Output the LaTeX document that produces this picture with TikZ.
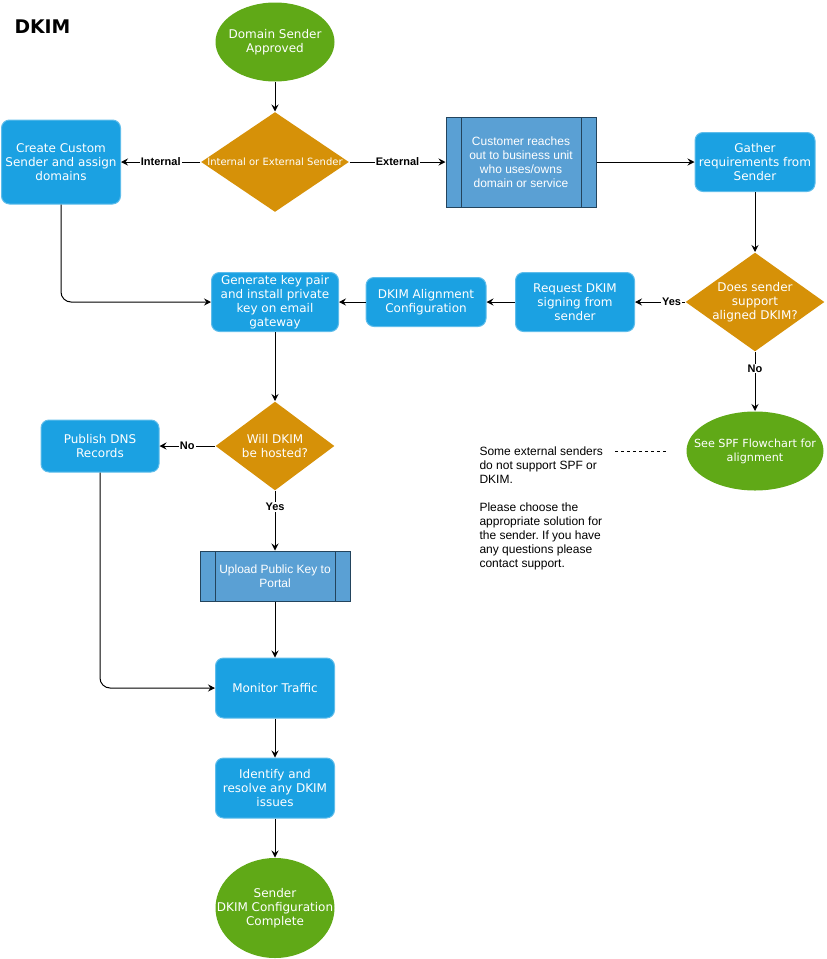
\documentclass[tikz,border=0pt]{standalone}
\usepackage{fontspec}
\setmainfont{DejaVu Sans}
\newfontfamily\arialfont{Liberation Sans}
\usepackage{tikz}
\usetikzlibrary{arrows.meta,shapes.geometric}
\definecolor{dgreen}{RGB}{96,169,23}
\definecolor{dblue}{RGB}{27,161,226}
\definecolor{dorange}{RGB}{214,145,8}
\definecolor{procfill}{RGB}{90,160,212}
\definecolor{procline}{RGB}{35,68,93}
\frenchspacing

\begin{document}
\begin{tikzpicture}[>={Stealth[length=7pt,width=7pt,inset=2.5pt]},x=1pt,y=-1pt,node distance=120pt,line width=1pt]
		\tikzstyle{task}=[rectangle,rounded corners=8pt,fill=dblue,draw=dblue!70!white,text=white,
			minimum width=119pt,minimum height=59pt,inner sep=0pt,align=center,font=\fontsize{12}{14}\selectfont]
		\tikzstyle{terminal}=[ellipse,fill=dgreen,text=white,minimum width=119pt,minimum height=79pt,
			inner xsep=-30pt,inner ysep=-10pt,align=center,font=\fontsize{12}{14}\selectfont]
		\tikzstyle{decision}=[diamond,fill=dorange,text=white,minimum width=148pt,minimum height=100pt,
			inner xsep=-10pt,inner ysep=-5pt,aspect=1.4,align=center,font=\fontsize{12}{14}\selectfont]
		\tikzstyle{process}=[rectangle,draw=procline,fill=procfill,text=white,minimum width=150pt,
			minimum height=90pt,inner sep=0pt,align=center,font=\arialfont\fontsize{12}{14}\selectfont,
			path picture={\draw[procline,line width=1pt]
				([xshift=15pt]path picture bounding box.north west) -- ([xshift=15pt]path picture bounding box.south west)
				([xshift=-15pt]path picture bounding box.north east) -- ([xshift=-15pt]path picture bounding box.south east);}]
		\tikzstyle{choice}=[fill=white,text=black,inner sep=1pt,font=\arialfont\bfseries\fontsize{11}{13}\selectfont]
		\tikzstyle{remark}=[text=black,inner sep=0pt,align=left,font=\arialfont\fontsize{12}{14}\selectfont]
		
		\useasboundingbox (0,0) rectangle (827,959);
		\node[anchor=west,inner sep=0pt,font=\bfseries\fontsize{18.8}{22}\selectfont] (title) at (14,27) {DKIM};
		
		\node[terminal] (start) at (275,42) {Domain Sender\\Approved};
		\node[decision] (dec1) [below of=start] {\fontsize{10}{12}\selectfont\makebox[0pt]{Internal or External Sender}};
		\node[task,minimum height=84pt] (custom) [left of=dec1,node distance=214pt] {Create Custom\\Sender and assign\\domains};
		\node[process] (reach) [right of=dec1,node distance=246pt] {Customer reaches\\out to business unit\\who uses/owns\\domain or service};
		\node[task,minimum width=120pt] (gather) [right of=reach,node distance=234pt] {Gather\\requirements from\\Sender};
		\node[decision,minimum width=139pt,minimum height=99pt] (dec2) [below of=gather,node distance=140pt] {Does sender\\support\\aligned DKIM?};
		\node[task] (request) [left of=dec2,node distance=180pt] {Request DKIM\\signing from\\sender};
		\node[task,minimum width=120pt,minimum height=49pt] (dkimalign) [left of=request,node distance=149pt] {DKIM Alignment\\Configuration};
		\node[task,minimum width=127pt] (genkey) [left of=dkimalign,node distance=151pt] {Generate key pair\\and install private\\key on email\\gateway};
		\node[decision,minimum width=119pt,minimum height=89pt] (dec3) [below of=genkey,node distance=144pt] {Will DKIM\\be hosted?};
		\node[task,minimum width=118pt,minimum height=52pt] (publish) [left of=dec3,node distance=175pt] {Publish DNS\\Records};
		\node[process,minimum height=50pt] (upload) [below of=dec3,node distance=130pt] {Upload Public Key to\\Portal};
		\node[task,minimum height=60pt] (monitor) [below of=upload,node distance=112pt] {Monitor Traffic};
		\node[task,minimum height=60pt] (resolve) [below of=monitor,node distance=100pt] {Identify and\\resolve any DKIM\\issues};
		\node[terminal,minimum height=100pt] (done) [below of=resolve,node distance=120pt] {Sender\\DKIM Configuration\\Complete};
		\node[terminal,minimum width=137pt,font=\fontsize{11.2}{14}\selectfont] (spf) [below of=dec2,node distance=149pt] {See SPF Flowchart for\\alignment};
		\node[remark,anchor=north west] (note) at (479,446) {Some external senders\\do not support SPF or\\DKIM.\\[14pt]Please choose the\\appropriate solution for\\the sender. If you have\\any questions please\\contact support.};
		
		\path[->]
		(start) edge (dec1)
		(dec1) edge node[choice] {Internal} (custom)
			edge node[choice] {External} (reach)
		(reach) edge (gather)
		(gather) edge (dec2)
		(dec2) edge node[choice,pos=0.27] {Yes} (request)
			edge node[choice,pos=0.28] {No} (spf)
		(request) edge (dkimalign)
		(dkimalign) edge (genkey)
		(genkey) edge (dec3)
		(dec3) edge node[choice] {No} (publish)
			edge node[choice,pos=0.27] {Yes} (upload)
		(upload) edge (monitor)
		(monitor) edge (resolve)
		(resolve) edge (done);
		\draw[->,rounded corners=10pt] (custom) |- (genkey);
		\draw[->,rounded corners=10pt] (publish) |- (monitor);
		
		\coordinate (dashL) at (615,451);
		\coordinate (dashR) at (666,451);
		\draw[dashed,line width=0.8pt] (dashL) -- (dashR);
\end{tikzpicture}
\end{document}
